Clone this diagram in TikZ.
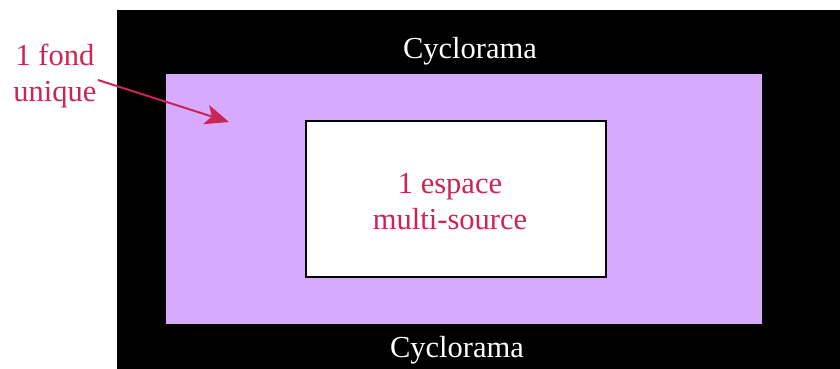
\documentclass[tikz,border=0pt]{standalone}
\usepackage{fontspec}
\setmainfont{Liberation Serif}
\usepackage{tikz}
\usetikzlibrary{arrows.meta}

\definecolor{cyclo}{RGB}{214,170,255}
\definecolor{rouge}{RGB}{204,36,86}

\begin{document}
\begin{tikzpicture}[x=1pt,y=-1pt,
    lbl/.style={text=rouge,align=center,font=\fontsize{30.5}{36}\selectfont},
    cyc/.style={text=white,font=\fontsize{30.5}{36}\selectfont}]
        \useasboundingbox (0,0) rectangle (840,369);
        % Draw cyclorama and background
        \fill[black] (117,10) rectangle (840,369);
        \fill[cyclo] (166,74) rectangle (762,324);
        \filldraw[fill=white,draw=black,line width=1.5pt] (306,121) rectangle (606,277);

        \node[cyc] (top) at (470,51) {Cyclorama};
        \node[cyc] (bottom) at (457,350) {Cyclorama};
        \node[lbl] (espace) at (450,202) {1 espace\\multi-source};
        \node[lbl] (fond) at (55,76) {1 fond\\unique};

        % Draw arrow
        \coordinate (tip) at (229,122);
        \draw[rouge,line width=2pt,-{Stealth[length=24pt,width=20pt,inset=6pt]}] (98,80) -- (tip);
    \end{tikzpicture}
\end{document}
